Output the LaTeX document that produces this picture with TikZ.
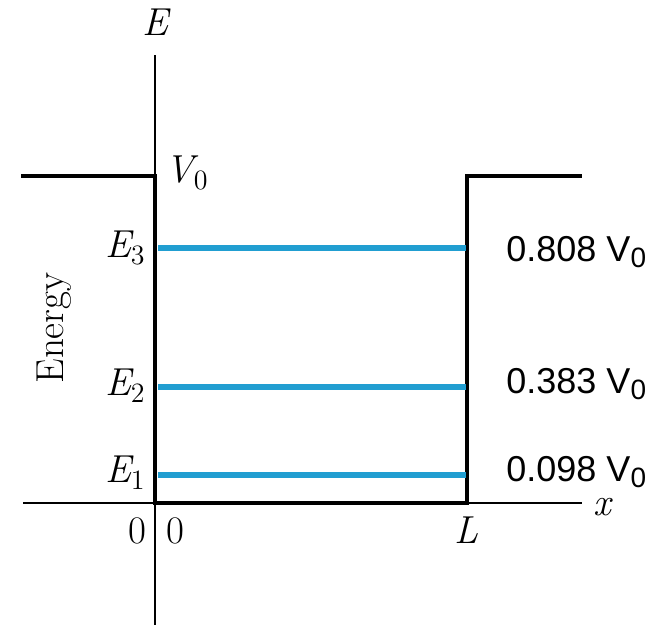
\documentclass[tikz,border=0pt]{standalone}
\usepackage{fontspec}
\newfontfamily\arialf{Liberation Sans}
\definecolor{levelblue}{RGB}{33,158,209}
\newcommand{\lsub}[1]{\raisebox{-3.6pt}{\fontsize{14}{14}\selectfont\upshape #1}}
\newcommand{\ssub}[1]{\raisebox{-3.4pt}[\height][0pt]{\fontsize{14}{14}\selectfont #1}}
\begin{document}
\begin{tikzpicture}[x=0.5pt,y=-0.5pt,
  thinax/.style={line width=1pt,black},
  wall/.style={line width=2.3pt,black,line cap=rect},
  level/.style={line width=2.6pt,levelblue},
  serif/.style={inner sep=0pt,font=\fontsize{19.5}{22}\selectfont},
  sanslab/.style={inner sep=0pt,anchor=base west,font=\arialf\fontsize{18}{20}\selectfont}]
\useasboundingbox (0,0) rectangle (659,627);
% coordinates
\coordinate (ytop) at (155,55);
\coordinate (ybot) at (155,625);
\coordinate (xl) at (23,503);
\coordinate (xr) at (582,503);
\coordinate (lt) at (23,176);
\coordinate (lw) at (155,176);
\coordinate (o) at (155,503);
\coordinate (rb) at (467,503);
\coordinate (rw) at (467,176);
\coordinate (rt) at (580,176);
% axes
\draw[thinax] (ytop) -- (ybot);
\draw[thinax] (xl) -- (xr);
% well
\draw[wall] (lt) -- (lw) -- (o) -- (rb) -- (rw) -- (rt);
% levels
\coordinate (a3) at (158,248); \coordinate (b3) at (466,248);
\coordinate (a2) at (158,387); \coordinate (b2) at (466,387);
\coordinate (a1) at (158,475); \coordinate (b1) at (466,475);
\draw[level] (a3) -- (b3);
\draw[level] (a2) -- (b2);
\draw[level] (a1) -- (b1);
% labels
\node[serif,anchor=base] (lE) at (155,35) {\itshape E};
\node[serif,anchor=base west] (lV) at (165,182) {\itshape V\lsub{0}};
\node[serif,anchor=base east] (lE3) at (145,257) {\itshape E\lsub{3}};
\node[serif,anchor=base east] (lE2) at (145,395) {\itshape E\lsub{2}};
\node[serif,anchor=base east] (lE1) at (145,482) {\itshape E\lsub{1}};
\node[serif,anchor=base,rotate=90] (lEn) at (63,328) {Energy};
\node[serif,anchor=base] (l0a) at (137,543) {0};
\node[serif,anchor=base] (l0b) at (175,543) {0};
\node[serif,anchor=base] (lL) at (466,543) {\itshape L};
\node[serif,anchor=base] (lx) at (602,515) {\itshape x};
\node[sanslab] (v3) at (506,261) {0.808 V\ssub{0}};
\node[sanslab] (v2) at (506,393) {0.383 V\ssub{0}};
\node[sanslab] (v1) at (506,481) {0.098 V\ssub{0}};
\end{tikzpicture}
\end{document}
